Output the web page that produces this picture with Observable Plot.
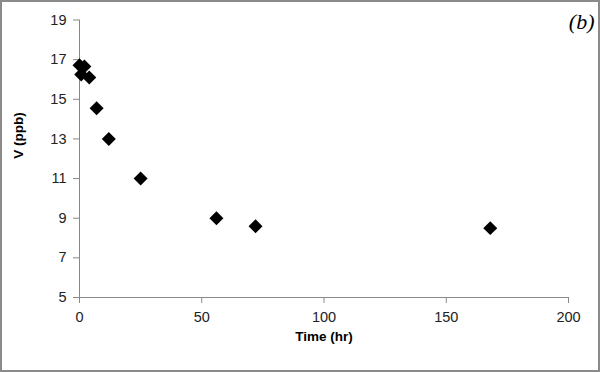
<!DOCTYPE html>
<html><head><meta charset="utf-8">
<script src="https://cdn.jsdelivr.net/npm/d3@7"></script>
<script src="https://cdn.jsdelivr.net/npm/@observablehq/plot@0.6"></script>
<style>
body{margin:0;background:#fff}
#chart svg{display:block;outline:2px solid #8a8a8a;outline-offset:-2px}
</style></head><body><div id="chart"></div>
<script>
const time = [0, 2, 0.7, 4, 7, 12, 25, 56, 72, 168];
const conc = [16.72, 16.65, 16.25, 16.1, 14.55, 13.0, 11.0, 9.0, 8.6, 8.5];
const xTicks = [0, 50, 100, 150, 200];
const yTicks = [5, 7, 9, 11, 13, 15, 17, 19];
const xTitle = ["Time (hr)"];
const yTitle = ["V (ppb)"];
const panelLabel = ["(b)"];
const data = time.map((t, i) => ({t, v: conc[i]}));

const chart = Plot.plot({
  width: 600, height: 372,
  marginLeft: 79, marginRight: 32, marginTop: 19.5, marginBottom: 75,
  style: {fontFamily: "'Liberation Sans', Arial, sans-serif", fontSize: "14.5px", color: "#222", background: "#fff"},
  x: {domain: [0, 200], ticks: xTicks, label: null},
  y: {domain: [5, 19], ticks: yTicks, label: null},
  marks: [
    Plot.axisX(xTicks, {tickSize: 6, tickPadding: 8, stroke: "#888", fill: "#222", label: null}),
    Plot.axisY(yTicks, {tickSize: 6, tickPadding: 7, stroke: "#888", fill: "#222", label: null}),
    Plot.ruleY([5], {stroke: "#888"}),
    Plot.ruleX([0], {stroke: "#888"}),
    Plot.dot(data, {x: "t", y: "v", symbol: "diamond2", r: 6.3, fill: "#000", stroke: "none"}),
    Plot.text(xTitle, {frameAnchor: "bottom", text: d => d, dy: 43, fontWeight: "bold", fontSize: 13.5, fill: "#000"}),
    Plot.text(yTitle, {frameAnchor: "left", text: d => d, dx: -61, rotate: -90, fontWeight: "bold", fontSize: 13.5, fill: "#000"}),
    Plot.text(panelLabel, {frameAnchor: "top-right", text: d => d, dx: 26, dy: -7, lineAnchor: "top", textAnchor: "end",
      fontFamily: "'Liberation Serif', 'Times New Roman', serif", fontStyle: "italic", fontSize: 22, fill: "#000"})
  ]
});
document.getElementById("chart").append(chart);
</script></body></html>
